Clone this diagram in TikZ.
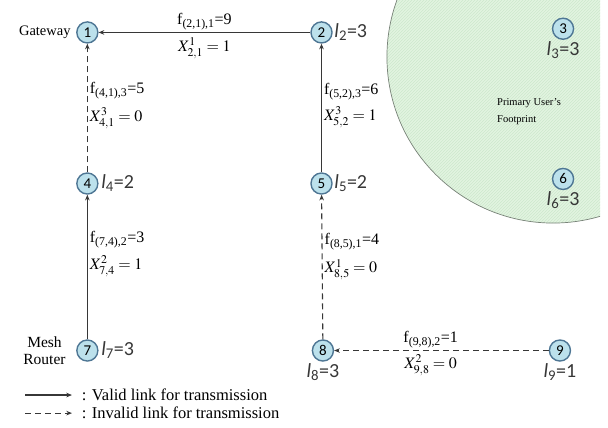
\documentclass[tikz,border=0pt]{standalone}
\usepackage{mathptmx}
\usepackage{fontspec}
\setmainfont{Liberation Serif}
\newfontfamily\calib{Carlito}
\usepackage{tikz}
\usetikzlibrary{arrows.meta,positioning,patterns}
\definecolor{linkgray}{RGB}{55,55,55}
\definecolor{nodeblue}{RGB}{188,225,236}
\definecolor{rimblue}{RGB}{78,118,148}
\definecolor{pufill}{RGB}{226,244,224}
\definecolor{puhatch}{RGB}{200,230,200}
\definecolor{purim}{RGB}{120,130,120}

\begin{document}
\begin{tikzpicture}[
mr/.style={
draw=rimblue,
fill=nodeblue,
circle,
minimum size=0.74cm,
inner sep=0pt,
line width=1.4pt,
font=\calib\fontsize{15}{15}\selectfont
},
load/.style={
font=\calib\fontsize{20}{20}\selectfont,
text=linkgray,
inner sep=1.5pt
},
flow/.style={
font=\fontsize{16}{18}\selectfont,
text=black,
align=left,
inner sep=1pt
},
txt/.style={
font=\fontsize{14.5}{16}\selectfont,
align=center
},
valid/.style={
-{Stealth[length=2mm,width=1.6mm]},
line width=1.1pt,
color=linkgray
},
invalid/.style={
valid,
dash pattern=on 6pt off 4pt
}
]
\useasboundingbox (0,0) rectangle (21.37,15.01);

% primary user's footprint
\begin{scope}
\clip (0,0) rectangle (21.09,15.01);
\fill[pufill] (19.44,13.01) circle (5.84);
\fill[pattern=north east lines,pattern color=puhatch] (19.44,13.01) circle (5.84);
\draw[purim,line width=0.7pt] (19.44,13.01) circle (5.84);
\end{scope}
\node[font=\fontsize{10.5}{17}\selectfont,align=left,anchor=west] (pu)
at (17.35,11.09) {Primary User's\\ Footprint};

% mesh routers
\node[mr] (n1) at (3.07,13.87) {1};
\node[mr] (n2) at (11.3,13.87) {2};
\node[mr] (n3) at (19.79,14.0) {3};
\node[mr] (n4) at (3.07,8.56) {4};
\node[mr] (n5) at (11.3,8.56) {5};
\node[mr] (n6) at (19.79,8.72) {6};
\node[mr] (n7) at (3.07,2.69) {7};
\node[mr] (n8) at (11.35,2.69) {8};
\node[mr] (n9) at (19.68,2.69) {9};

\node[load,right=0pt of n2] (l2) {{\itshape l}\textsubscript{2}=3};
\node[load,below=0pt of n3] (l3) {{\itshape l}\textsubscript{3}=3};
\node[load,right=1pt of n4] (l4) {{\itshape l}\textsubscript{4}=2};
\node[load,right=0pt of n5] (l5) {{\itshape l}\textsubscript{5}=2};
\node[load,below=0pt of n6] (l6) {{\itshape l}\textsubscript{6}=3};
\node[load,right=1pt of n7] (l7) {{\itshape l}\textsubscript{7}=3};
\node[load,below=0pt of n8] (l8) {{\itshape l}\textsubscript{8}=3};
\node[load,below=0pt of n9] (l9) {{\itshape l}\textsubscript{9}=1};

\node[txt,left=2pt of n1] (gw) {Gateway};
\node[txt,left=7pt of n7,font=\fontsize{15.5}{17}\selectfont] (mesh) {Mesh\\ Router};

% links
\draw[valid]
(n2) -- node[flow,above=1pt]{f\textsubscript{(2,1),1}=9}
node[flow,below=4pt]{$X^{1}_{2,1}=1$} (n1);

\draw[invalid]
(n4) -- node[flow,pos=0.52,right=1pt]
{f\textsubscript{(4,1),3}=5\\[8pt]$X^{3}_{4,1}=0$} (n1);

\draw[valid]
(n7) -- node[flow,pos=0.59,right=1pt]
{f\textsubscript{(7,4),2}=3\\[7pt]$X^{2}_{7,4}=1$} (n4);

\draw[valid]
(n5) -- node[flow,pos=0.52,right=1pt]
{f\textsubscript{(5,2),3}=6\\[6pt]$X^{3}_{5,2}=1$} (n2);

\draw[invalid]
(n8) -- node[flow,pos=0.57,right=1pt]
{f\textsubscript{(8,5),1}=4\\[8pt]$X^{1}_{8,5}=0$} (n5);

\draw[invalid]
(n9) -- node[flow,pos=0.55,above=1pt]{f\textsubscript{(9,8),2}=1}
node[flow,pos=0.55,below=3pt]{$X^{2}_{9,8}=0$} (n8);

% legend
\coordinate (v0) at (0.88,1.125);
\coordinate (v1) at (2.53,1.125);
\coordinate (i0) at (0.88,0.49);
\coordinate (i1) at (2.53,0.49);
\draw[valid] (v0) -- (v1);
\draw[invalid] (i0) -- (i1);
\node[txt,anchor=west,font=\fontsize{16.5}{18}\selectfont] (vtxt) at (2.75,1.125) {: Valid link for transmission};
\node[txt,anchor=west,font=\fontsize{16.5}{18}\selectfont] (itxt) at (2.75,0.49) {: Invalid link for transmission};

\end{tikzpicture}
\end{document}
